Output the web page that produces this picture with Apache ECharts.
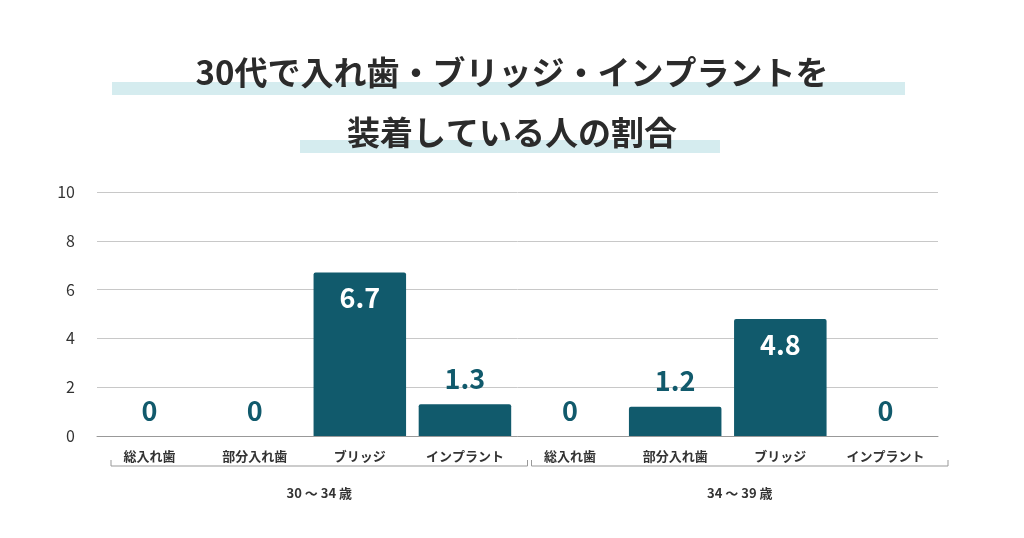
<!DOCTYPE html>
<html><head><meta charset="utf-8">
<script src="https://cdn.jsdelivr.net/npm/echarts@6/dist/echarts.min.js"></script>
<style>html,body{margin:0;padding:0;background:#fff}#c{width:1024px;height:538px}</style>
</head><body><div id="c"></div>
<script>
const categories = ['総入れ歯','部分入れ歯','ブリッジ','インプラント','総入れ歯','部分入れ歯','ブリッジ','インプラント'];
const values = [0, 0, 6.7, 1.3, 0, 1.2, 4.8, 0];
const groups = ['30 〜 34 歳', '34 〜 39 歳'];
const titleLines = ['30代で入れ歯・ブリッジ・インプラントを', '装着している人の割合'];
const yTicks = [0, 2, 4, 6, 8, 10];

const teal = '#115a6c';
const chart = echarts.init(document.getElementById('c'));
const font = '"Noto Sans CJK JP", "Noto Sans", sans-serif';
const data = values.map(v => v >= 3
  ? {value: v, label: {position: 'insideTop', color: '#fff', distance: 12}}
  : {value: v, label: {position: 'top', color: teal, distance: 12}});

chart.setOption({
  animation: false,
  grid: {left: 97, right: 86, top: 192, bottom: 102},
  xAxis: {type: 'category', data: categories,
    axisLine: {lineStyle: {color: '#999'}}, axisTick: {show: false},
    axisLabel: {color: '#333', fontSize: 13, fontFamily: font, fontWeight: 'bold', margin: 14}},
  yAxis: {type: 'value', min: yTicks[0], max: yTicks[yTicks.length-1], interval: 2,
    axisLabel: {color: '#333', fontSize: 16, fontFamily: font, margin: 22},
    splitLine: {lineStyle: {color: '#c8c8c8'}}},
  series: [{type: 'bar', data: data, barWidth: '88%',
    itemStyle: {color: teal, borderRadius: [2,2,0,0]},
    label: {show: true, fontSize: 27, fontWeight: 'bold', fontFamily: font}}]
});

const g = [];
const w = chart.getWidth();
// title
g.push({type:'rect', shape:{x:112,y:82,width:793,height:13}, style:{fill:'#d5ecef'}});
g.push({type:'rect', shape:{x:300,y:140,width:420,height:13}, style:{fill:'#d5ecef'}});
titleLines.forEach((t,i)=>g.push({type:'text', x:w/2, y:72+i*60,
  style:{text:t, fill:'#2b2b2b', font:'bold 33px '+font, align:'center', verticalAlign:'middle'}}));
// group brackets
const half = (chart.convertToPixel({xAxisIndex:0},1) - chart.convertToPixel({xAxisIndex:0},0))/2;
groups.forEach((name,gi)=>{
  const x0 = chart.convertToPixel({xAxisIndex:0}, gi*4) - half + 14;
  const x1 = chart.convertToPixel({xAxisIndex:0}, gi*4+3) + half + 10;
  const y = 466;
  g.push({type:'polyline', shape:{points:[[x0,y-6],[x0,y],[x1,y],[x1,y-6]]}, style:{stroke:'#999', lineWidth:1, fill:null}});
  g.push({type:'text', x:(x0+x1)/2, y:y+27, style:{text:name, fill:'#333', font:'bold 13px '+font, align:'center', verticalAlign:'middle'}});
});
chart.setOption({graphic: g});
</script></body></html>
